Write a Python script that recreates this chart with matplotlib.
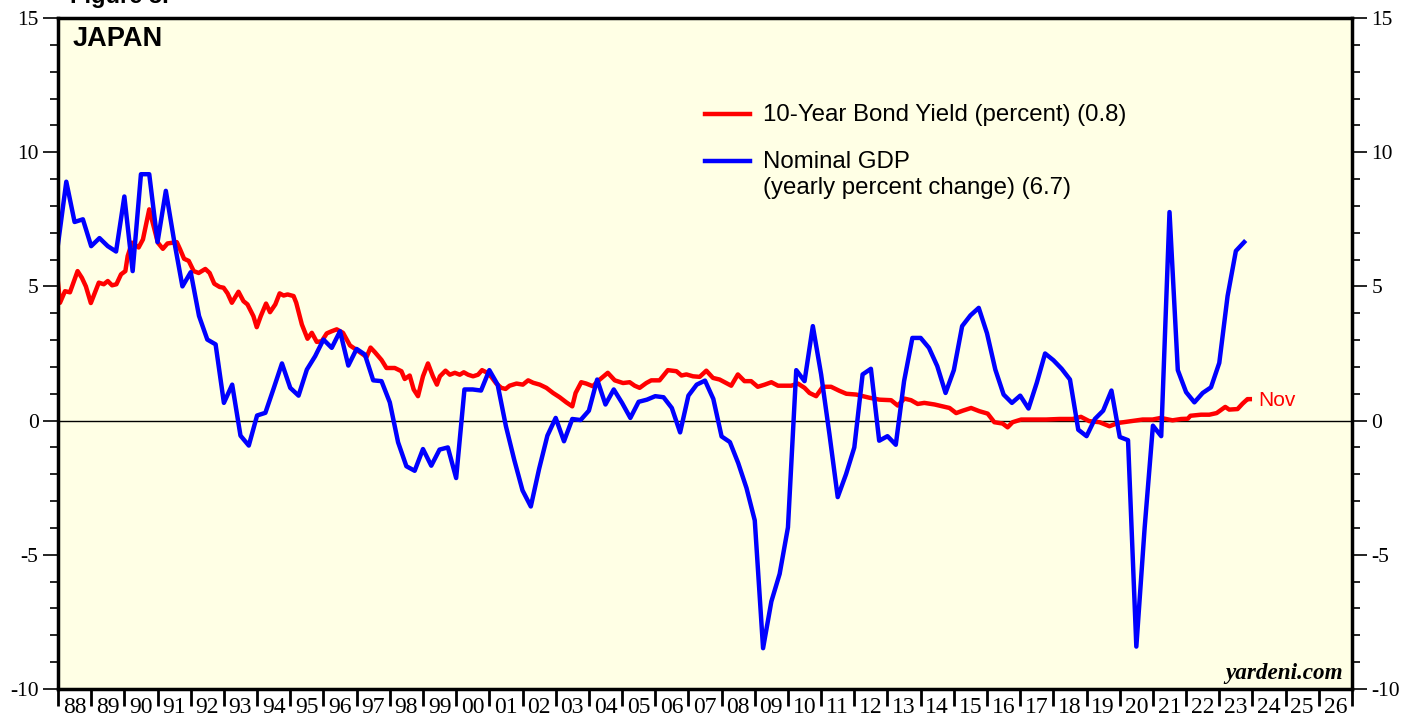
import numpy as np
import matplotlib.pyplot as plt
from matplotlib.ticker import MultipleLocator, FixedLocator, NullFormatter

plt.rcParams['axes.unicode_minus'] = False

# Nominal GDP, yearly percent change, quarterly (plotted at quarter end, first point 1988.0)
gdp = [6.57, 8.9, 7.4, 7.5, 6.5, 6.8, 6.5, 6.3, 8.35, 5.57,
       9.18, 9.18, 6.65, 8.56, 6.7, 5.0, 5.53, 3.9, 3.02, 2.84,
       0.66, 1.34, -0.56, -0.93, 0.19, 0.29, 1.2, 2.13, 1.22, 0.93,
       1.9, 2.4, 3.02, 2.71, 3.33, 2.05, 2.67, 2.46, 1.5, 1.47,
       0.68, -0.81, -1.7, -1.87, -1.06, -1.68, -1.08, -1.0, -2.14, 1.16,
       1.16, 1.12, 1.88, 1.34, -0.21, -1.46, -2.6, -3.2, -1.8, -0.56,
       0.1, -0.77, 0.06, 0.02, 0.37, 1.53, 0.6, 1.16, 0.66, 0.1,
       0.7, 0.78, 0.91, 0.87, 0.47, -0.44, 0.93, 1.34, 1.49, 0.81,
       -0.59, -0.8, -1.58, -2.51, -3.72, -8.48, -6.74, -5.71, -3.98, 1.88,
       1.47, 3.52, 1.72, -0.5, -2.85, -2.0, -1.0, 1.72, 1.93, -0.75,
       -0.58, -0.9, 1.47, 3.08, 3.08, 2.71, 2.03, 1.03, 1.88, 3.52,
       3.92, 4.2, 3.25, 1.9, 0.97, 0.66, 0.93, 0.45, 1.41, 2.5,
       2.25, 1.93, 1.53, -0.34, -0.58, 0.06, 0.37, 1.12, -0.61, -0.73,
       -8.42, -4.0, -0.19, -0.58, 7.77, 1.88, 1.06, 0.68, 1.03, 1.24,
       2.15, 4.64, 6.32, 6.65]
gdp_year = 1988.0 + 0.25 * np.arange(len(gdp))

# 10-year government bond yield (percent)
bond_year = [1988.00, 1988.06, 1988.21, 1988.36, 1988.59, 1988.72, 1988.84, 1988.99,
             1989.23, 1989.38, 1989.50, 1989.63, 1989.76, 1989.90, 1990.03, 1990.10,
             1990.23, 1990.43, 1990.56, 1990.75, 1990.88, 1991.01, 1991.16, 1991.30,
             1991.46, 1991.58, 1991.68, 1991.80, 1991.94, 1992.09, 1992.24, 1992.44,
             1992.57, 1992.71, 1992.87, 1992.99, 1993.11, 1993.24, 1993.44, 1993.59,
             1993.71, 1993.89, 1993.99, 1994.11, 1994.27, 1994.39, 1994.55, 1994.68,
             1994.80, 1994.92, 1995.10, 1995.18, 1995.35, 1995.52, 1995.65, 1995.80,
             1995.95, 1996.10, 1996.25, 1996.40, 1996.59, 1996.80, 1997.05, 1997.30,
             1997.42, 1997.55, 1997.75, 1997.90, 1998.15, 1998.35, 1998.45, 1998.60,
             1998.72, 1998.85, 1999.00, 1999.15, 1999.30, 1999.42, 1999.51, 1999.68,
             1999.81, 1999.96, 2000.11, 2000.23, 2000.36, 2000.51, 2000.66, 2000.78,
             2000.91, 2001.06, 2001.21, 2001.36, 2001.49, 2001.61, 2001.82, 2002.01,
             2002.17, 2002.32, 2002.52, 2002.72, 2002.92, 2003.12, 2003.32, 2003.50,
             2003.60, 2003.77, 2003.92, 2004.12, 2004.27, 2004.57, 2004.78, 2005.03,
             2005.23, 2005.38, 2005.53, 2005.73, 2005.88, 2006.13, 2006.38, 2006.64,
             2006.79, 2006.94, 2007.14, 2007.34, 2007.54, 2007.74, 2007.94, 2008.14,
             2008.29, 2008.49, 2008.69, 2008.89, 2009.09, 2009.30, 2009.50, 2009.70,
             2009.90, 2010.10, 2010.30, 2010.50, 2010.65, 2010.85, 2011.05, 2011.30,
             2011.55, 2011.76, 2012.06, 2012.46, 2012.76, 2013.11, 2013.31, 2013.51,
             2013.71, 2013.91, 2014.11, 2014.42, 2014.67, 2014.87, 2015.07, 2015.27,
             2015.52, 2015.77, 2016.02, 2016.22, 2016.47, 2016.62, 2016.77, 2017.03,
             2017.38, 2017.78, 2018.18, 2018.58, 2018.83, 2019.08, 2019.39, 2019.69,
             2019.94, 2020.29, 2020.69, 2020.99, 2021.24, 2021.59, 2021.85, 2022.05,
             2022.13, 2022.45, 2022.70, 2022.92, 2023.18, 2023.30, 2023.55, 2023.70,
             2023.85, 2023.92]
bond = [5.14, 4.39, 4.82, 4.78, 5.57, 5.32, 5.0, 4.38,
        5.14, 5.08, 5.2, 5.04, 5.08, 5.45, 5.57, 6.13,
        6.63, 6.45, 6.75, 7.87, 7.25, 6.63, 6.4, 6.6,
        6.63, 6.65, 6.38, 6.03, 5.95, 5.57, 5.5, 5.65,
        5.5, 5.1, 4.98, 4.95, 4.74, 4.39, 4.8, 4.45,
        4.33, 3.89, 3.48, 3.89, 4.36, 4.04, 4.33, 4.74,
        4.66, 4.7, 4.64, 4.39, 3.58, 3.05, 3.27, 2.93,
        2.96, 3.25, 3.33, 3.4, 3.27, 2.8, 2.59, 2.37,
        2.72, 2.55, 2.26, 1.96, 1.96, 1.84, 1.55, 1.68,
        1.16, 0.91, 1.65, 2.13, 1.65, 1.34, 1.65, 1.86,
        1.71, 1.78, 1.71, 1.8, 1.71, 1.65, 1.71, 1.88,
        1.8, 1.63, 1.38, 1.22, 1.18, 1.3, 1.38, 1.34,
        1.5, 1.41, 1.34, 1.22, 1.03, 0.87, 0.68, 0.53,
        1.03, 1.43, 1.38, 1.28, 1.47, 1.78, 1.5, 1.4,
        1.43, 1.3, 1.22, 1.4, 1.5, 1.5, 1.88, 1.84,
        1.68, 1.72, 1.65, 1.63, 1.86, 1.59, 1.53, 1.4,
        1.3, 1.72, 1.47, 1.47, 1.26, 1.34, 1.43, 1.3,
        1.3, 1.3, 1.38, 1.22, 1.03, 0.91, 1.26, 1.26,
        1.11, 1.0, 0.97, 0.85, 0.78, 0.76, 0.56, 0.82,
        0.76, 0.62, 0.66, 0.6, 0.53, 0.47, 0.28, 0.37,
        0.47, 0.35, 0.26, -0.06, -0.11, -0.25, -0.06, 0.04,
        0.04, 0.04, 0.06, 0.06, 0.14, -0.02, -0.06, -0.21,
        -0.09, -0.03, 0.04, 0.04, 0.1, 0.01, 0.06, 0.07,
        0.18, 0.22, 0.22, 0.28, 0.51, 0.41, 0.43, 0.63,
        0.8, 0.8]

years = np.arange(1988, 2027)
year_labels = ['%02d' % (y % 100) for y in years]

serif = 'Liberation Serif'
sans = 'Liberation Sans'

fig = plt.figure(figsize=(14.19, 7.21), dpi=100)
ax = fig.add_axes([58 / 1419, 32 / 721, 1294 / 1419, 671 / 721])
ax.set_facecolor('#FFFFE5')

ax.axhline(0, color='black', lw=1)
ax.plot(bond_year, bond, color='#FF0000', lw=3.2)
ax.plot(gdp_year, gdp, color='#0000FF', lw=3.2)

ax.set_xlim(1988, 2027)
ax.set_ylim(-10, 15)

for s in ax.spines.values():
    s.set_linewidth(2.5)

# y axis on both sides
ax.yaxis.set_major_locator(MultipleLocator(5))
ax.yaxis.set_minor_locator(MultipleLocator(1))
ax.tick_params(axis='y', which='major', direction='out', length=11, width=1.2,
               left=True, right=True, labelleft=True, labelright=True,
               labelsize=15.5, pad=3)
ax.tick_params(axis='y', which='minor', direction='out', length=5.5, width=1.2,
               left=True, right=True)
for lab in ax.get_yticklabels():
    lab.set_fontfamily(serif)

# x axis: ticks at year boundaries, labels centred within each year
ax.xaxis.set_major_locator(FixedLocator(list(years) + [2027]))
ax.xaxis.set_major_formatter(NullFormatter())
ax.xaxis.set_minor_locator(FixedLocator(years + 0.5))
ax.set_xticklabels(year_labels, minor=True, fontfamily=serif, fontsize=17)
ax.tick_params(axis='x', which='major', direction='out', length=12, width=2,
               top=False)
ax.tick_params(axis='x', which='minor', length=0, pad=6, top=False)

# title bits
ax.text(0.011, 0.988, 'JAPAN', transform=ax.transAxes, ha='left', va='top',
        fontfamily=sans, fontweight='bold', fontsize=19.5)
fig.text(0.049, 1 - 3 / 721, 'Figure 3.', ha='left', va='baseline',
         fontfamily=sans, fontweight='bold', fontsize=17)
ax.text(0.993, 0.008, 'yardeni.com', transform=ax.transAxes, ha='right', va='bottom',
        fontfamily=serif, fontweight='bold', fontstyle='italic', fontsize=16.7)

# legend drawn by hand
ax.plot([0.5, 0.535], [0.857, 0.857], transform=ax.transAxes, color='#FF0000', lw=3.2)
ax.plot([0.5, 0.535], [0.787, 0.787], transform=ax.transAxes, color='#0000FF', lw=3.2)
ax.text(0.545, 0.855, '10-Year Bond Yield (percent) (0.8)', transform=ax.transAxes,
        va='center', fontfamily=sans, fontsize=17.3)
ax.text(0.545, 0.785, 'Nominal GDP', transform=ax.transAxes,
        va='center', fontfamily=sans, fontsize=17.3)
ax.text(0.545, 0.747, '(yearly percent change) (6.7)', transform=ax.transAxes,
        va='center', fontfamily=sans, fontsize=17.3)

ax.annotate('Nov', xy=(bond_year[-1], bond[-1]), xytext=(6, -1), textcoords='offset points',
            va='center', ha='left', color='#FF0000', fontfamily=sans, fontsize=15)

fig.savefig('out.png', dpi=100)
